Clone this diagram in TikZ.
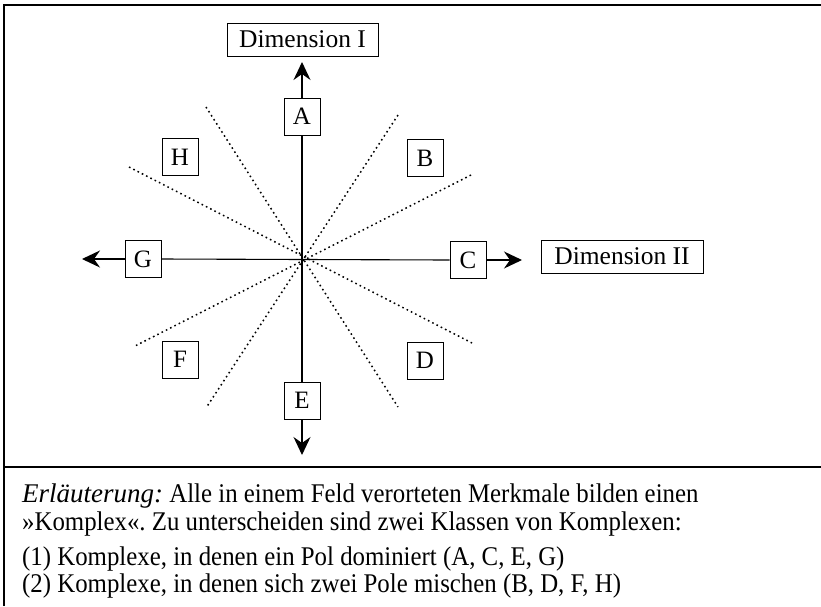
\documentclass[tikz,border=0pt]{standalone}
\usepackage{fontspec}
\setmainfont{Liberation Serif}
\newfontfamily\condfont[FakeStretch=0.92]{Liberation Serif}
\usetikzlibrary{arrows.meta}
\begin{document}
\frenchspacing
\begin{tikzpicture}[x=1pt,y=-1pt,
  lbox/.style={draw, line width=0.9pt, minimum width=36pt, minimum height=37pt, inner sep=0pt, font=\fontsize{25}{28}\selectfont},
  dimbox/.style={draw, line width=0.9pt, minimum height=33pt, inner sep=0pt, font=\fontsize{25.5}{30}\selectfont},
  axis/.style={line width=1.1pt},
  arr/.style={line width=1.1pt, -{Stealth[length=18pt,width=17pt,inset=6pt]}},
  ray/.style={line width=1.5pt, dash pattern=on 1.6pt off 3.2pt},
  frame/.style={line width=1.2pt},
  txt/.style={anchor=base west, inner sep=0pt, font=\condfont\fontsize{27}{30}\selectfont}]
\useasboundingbox (0,0) rectangle (821,606);
% frame
\draw[frame] (4,606) -- (4,5) -- (821,5);
\draw[frame] (4,467) -- (821,467);
% dotted rays
\coordinate (r1a) at (206,107); \coordinate (r1b) at (398,407);
\coordinate (r2a) at (129,167); \coordinate (r2b) at (472,343);
\coordinate (r3a) at (398,115); \coordinate (r3b) at (206,408);
\coordinate (r4a) at (471,175); \coordinate (r4b) at (135,346);
\draw[ray] (r1a) -- (r1b);
\draw[ray] (r2a) -- (r2b);
\draw[ray] (r3a) -- (r3b);
\draw[ray] (r4a) -- (r4b);
% boxes
\node[dimbox, minimum width=151pt] (d1) at (302.5,39.5) {Dimension I};
\node[dimbox, minimum width=162pt] (d2) at (622,256.5) {Dimension II};
\node[lbox] (A) at (302,116.5) {A};
\node[lbox] (B) at (425,158) {B};
\node[lbox] (C) at (468,260) {C};
\node[lbox] (D) at (425,360.5) {D};
\node[lbox] (E) at (302,400.5) {E};
\node[lbox] (F) at (180,359.5) {F};
\node[lbox] (G) at (143,259) {G};
\node[lbox] (H) at (180,157) {H};
% axes
\draw[axis] (A.south) -- (E.north);
\draw[axis] (G.east) -- (C.west);
% arrows
\coordinate (tA) at (302,62);
\coordinate (tE) at (302,455);
\coordinate (tG) at (82,259);
\coordinate (tC) at (522,260);
\draw[arr] (A.north) -- (tA);
\draw[arr] (E.south) -- (tE);
\draw[arr] (G.west) -- (tG);
\draw[arr] (C.east) -- (tC);
% text
\node[txt] (t1) at (22,502) {{\rmfamily\itshape Erläuterung:} Alle in einem Feld verorteten Merkmale bilden einen};
\node[txt] (t2) at (22,530) {»Komplex«. Zu unterscheiden sind zwei Klassen von Komplexen:};
\node[txt] (t3) at (22,565) {(1) Komplexe, in denen ein Pol dominiert (A, C, E, G)};
\node[txt] (t4) at (22,592) {(2) Komplexe, in denen sich zwei Pole mischen (B, D, F, H)};
\end{tikzpicture}
\end{document}
